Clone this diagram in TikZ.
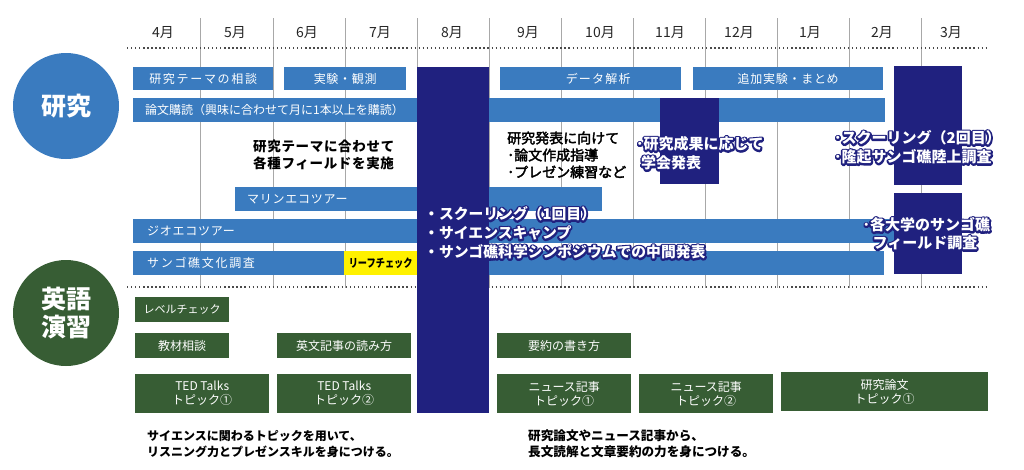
\documentclass[tikz,border=0pt]{standalone}
\usepackage{fontspec}
\setmainfont{Noto Sans CJK JP}
\usepackage{graphicx}
\definecolor{barblue}{HTML}{3A7BBF}
\definecolor{navyc}{HTML}{20217F}
\definecolor{grnc}{HTML}{375D34}
\definecolor{yelc}{HTML}{FFF100}
\definecolor{gridc}{HTML}{A8A8A8}
\definecolor{dotc}{HTML}{4A4A4A}
\newcommand\myfs[2]{\fontsize{#1}{#2}\selectfont}
\newcommand\myls[1]{\addfontfeature{LetterSpace=#1}}
\newcommand\strk[1]{\special{pdf:literal direct 1 j 2 Tr 3.6 w}#1\special{pdf:literal direct 0 Tr 0 j 0.4 w}}
\newcommand\semib[1]{\special{pdf:literal direct 1 j 2 Tr 0.35 w}#1\special{pdf:literal direct 0 Tr 0 j 0.4 w}}
\tikzset{
 gridline/.style={draw=gridc, line width=0.9pt},
 dotline/.style={draw=dotc, line width=1.3pt, dash pattern=on 1.3pt off 2.75pt},
 bar/.style={fill=barblue, text=white, inner sep=0pt, minimum height=23pt, anchor=north west, font=\myfs{12}{14}\myls{6}},
 gbox/.style={fill=grnc, text=white, inner sep=0pt, anchor=north west, align=center, font=\myfs{12}{14}},
 month/.style={font=\myfs{14}{16}, text=black!85},
 note/.style={text=black, align=left, anchor=west, inner sep=0pt},
 halo/.style={text=white, align=left, anchor=west, inner sep=0pt, font=\bfseries\myfs{14.8}{19}},
 halobg/.style={halo, text=navyc},
 bigcircle/.style={circle, text=white, minimum size=106pt, inner sep=0pt, align=center, font=\bfseries\myfs{25}{28}},
}
\begin{document}
\begin{tikzpicture}[x=1pt,y=-1pt]
\useasboundingbox (0,0) rectangle (1024,469);
% month separators
\foreach \x in {200,273,345,417,489,561,633,705,777,849,921}{\draw[gridline] (\x,18) -- (\x,288);}
\draw[dotline] (127,48) -- (987,48);
\draw[dotline] (127,287) -- (987,287);
% month labels
\foreach \lbl/\x [count=\i] in {4月/163,5月/235,6月/307,7月/380,8月/452,9月/528,10月/600,11月/670,12月/739,1月/810,2月/882,3月/951}
  {\node[month] (mon\i) at (\x,33) {\lbl};}
% circles
\node[bigcircle, fill=barblue] (ken) at (66,106) {研究};
\node[bigcircle, fill=grnc] (eigo) at (66,313) {英語\\演習};
% research bars
\node[bar, minimum width=140pt, font=\myfs{12}{14}\myls{14}] (b1) at (133,67) {研究テーマの相談};
\node[bar, minimum width=122pt] (b2) at (284,67) {実験・観測};
\node[bar, minimum width=181pt, font=\myfs{12}{14}\myls{10}] (b3) at (500,67) {\hspace*{15pt}データ解析};
\node[bar, minimum width=190pt] (b4) at (693,67) {追加実験・まとめ};
\node[bar, minimum height=24pt, text width=728pt, inner xsep=12pt, align=left, font=\myfs{12}{14}] (b5) at (133,98) {論文購読（興味に合わせて月に1本以上を購読）};
\node[bar, minimum height=24pt, text width=343pt, inner xsep=12pt, align=left] (b6) at (235,187) {マリンエコツアー};
\node[bar, minimum height=24pt, text width=733pt, inner xsep=14pt, align=left] (b7) at (133,219) {ジオエコツアー};
\node[bar, minimum height=24pt, text width=723pt, inner xsep=14pt, align=left, font=\myfs{12}{14}\myls{14}] (b8) at (133,251) {サンゴ礁文化調査};
\node[fill=yelc, inner sep=0pt, anchor=north west, minimum width=73pt, minimum height=24pt, font=\bfseries\myfs{11.5}{13}] (reef) at (344,251) {\scalebox{0.8}[1]{リーフチェック}};
% navy blocks
\fill[navyc] (417,67) rectangle (489,413);
\fill[navyc] (660,98) rectangle (719,184);
\fill[navyc] (894,66) rectangle (962,185);
\fill[navyc] (894,193) rectangle (962,274);
% notes
\node[note, font=\bfseries\myfs{13.5}{16.7}\myls{5}] (n1) at (253,155) {研究テーマに合わせて\\各種フィールドを実施};
\node[note, font=\myfs{14}{17}] (n2) at (507,155) {\semib{研究発表に向けて}\\\semib{･論文作成指導}\\\semib{･プレゼン練習など}};
% halo texts (navy outline layer, then white layer)
\node[halobg] (h1s) at (424,233) {\strk{・スクーリング（1回目）}\\\strk{・サイエンスキャンプ}\\\strk{・サンゴ礁科学シンポジウムでの中間発表}};
\node[halo] (h1) at (424,233) {・スクーリング（1回目）\\・サイエンスキャンプ\\・サンゴ礁科学シンポジウムでの中間発表};
\node[halobg, font=\bfseries\myfs{15}{19}] (h2s) at (636,153.5) {\strk{･研究成果に応じて}\\\hspace*{5pt}\strk{学会発表}};
\node[halo, font=\bfseries\myfs{15}{19}] (h2) at (636,153.5) {･研究成果に応じて\\\hspace*{5pt}学会発表};
\node[halobg, font=\bfseries\myfs{15}{19}] (h3s) at (834,147.5) {\strk{･スクーリング（2回目）}\\\strk{･隆起サンゴ礁陸上調査}};
\node[halo, font=\bfseries\myfs{15}{19}] (h3) at (834,147.5) {･スクーリング（2回目）\\･隆起サンゴ礁陸上調査};
\node[halobg, font=\bfseries\myfs{15}{18}] (h4s) at (862.5,234) {\strk{･各大学のサンゴ礁}\\\hspace*{10pt}\strk{フィールド調査}};
\node[halo, font=\bfseries\myfs{15}{18}] (h4) at (862.5,234) {･各大学のサンゴ礁\\\hspace*{10pt}フィールド調査};
% english boxes
\node[gbox, minimum width=94pt, minimum height=25pt, font=\myfs{11}{13}] (g1) at (135,297) {レベルチェック};
\node[gbox, minimum width=94pt, minimum height=25pt] (g2) at (135,333) {教材相談};
\node[gbox, minimum width=134pt, minimum height=25pt] (g3) at (277,333) {英文記事の読み方};
\node[gbox, minimum width=134pt, minimum height=25pt] (g4) at (497,333) {要約の書き方};
\node[gbox, minimum width=134pt, minimum height=39pt] (g5) at (135,374) {TED Talks\\トピック①};
\node[gbox, minimum width=134pt, minimum height=39pt] (g6) at (277,374) {TED Talks\\トピック②};
\node[gbox, minimum width=134pt, minimum height=39pt] (g7) at (497,374) {ニュース記事\\トピック①};
\node[gbox, minimum width=134pt, minimum height=39pt] (g8) at (639,374) {ニュース記事\\トピック②};
\node[gbox, minimum width=207pt, minimum height=39pt] (g9) at (781,372) {研究論文\\トピック①};
% bottom notes
\node[note, font=\bfseries\myfs{12}{16}] (t1) at (147,444) {サイエンスに関わるトピックを用いて、\\リスニング力とプレゼンスキルを身につける。};
\node[note, font=\bfseries\myfs{12.6}{16}] (t2) at (528,444) {研究論文やニュース記事から、\\長文読解と文章要約の力を身につける。};
\end{tikzpicture}
\end{document}
